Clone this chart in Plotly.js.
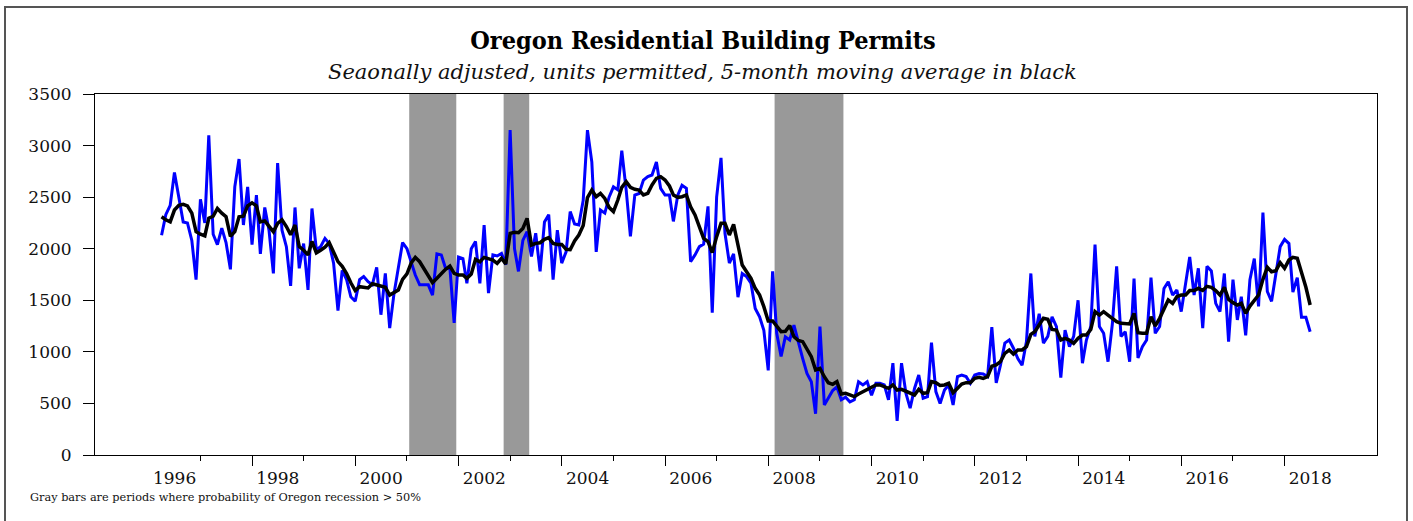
<!DOCTYPE html>
<html>
<head>
<meta charset="utf-8">
<script src="https://cdn.plot.ly/plotly-3.0.1.min.js"></script>
<style>html,body{margin:0;padding:0;background:#fff;}#chart{width:1413px;height:521px;}</style>
</head>
<body>
<div id="chart"></div>
<script>
// ---- data (monthly, starting April 1996) ----
const startYear = 1996;
const startMonth = 4;

const permits = [
2130,2330,2420,2740,2500,2260,2250,2080,1700,2480,2250,3100,
2140,2040,2200,2060,1800,2600,2870,2230,2600,2040,2520,1950,
2400,2180,1760,2830,2180,2020,1640,2400,1810,2050,1600,2390,
1990,2020,2100,2050,1860,1400,1790,1700,1535,1490,1700,1730,
1680,1650,1820,1360,1760,1230,1560,1830,2060,2000,1870,1745,
1650,1650,1650,1550,1950,1940,1810,1810,1280,1920,1905,1665,
2000,2070,1665,2230,1570,1940,1930,1955,1845,3150,2000,1780,
2080,2165,1925,2150,1780,2260,2330,1700,2180,1860,1970,2360,
2240,2230,2470,3150,2840,1970,2375,2345,2500,2600,2570,2950,
2570,2120,2520,2535,2665,2700,2715,2840,2585,2520,2520,2265,
2520,2615,2585,1875,1940,2020,2045,2410,1380,2500,2880,2150,
1860,1950,1530,1760,1730,1665,1420,1340,1210,820,1780,1180,
955,1145,1115,1260,1085,935,790,710,400,1245,485,550,
625,660,535,560,515,535,710,680,710,580,695,695,
680,535,890,330,890,600,455,645,775,550,565,1090,
615,500,630,680,485,760,775,760,695,775,790,785,
760,1240,700,870,1085,1115,1035,935,870,1100,1760,1150,
1370,1085,1150,1340,1245,750,1210,1050,1150,1500,890,1115,
1245,2040,1245,1180,905,1275,1830,1150,1195,905,1710,940,
1050,1115,1720,1180,1245,1615,1680,1550,1600,1390,1665,1920,
1550,1810,1230,1830,1785,1470,1390,1760,1100,1700,1310,1535,
1160,1700,1905,1440,2350,1585,1490,1760,2020,2090,2050,1580,
1720,1335,1335,1195
];

const movingAvg = [
2310,2280,2260,2375,2420,2430,2415,2345,2165,2140,2125,2295,
2315,2390,2345,2310,2120,2165,2310,2315,2415,2445,2415,2260,
2270,2215,2165,2245,2280,2215,2135,2230,2020,1985,1940,2070,
1960,1985,2015,2060,1970,1875,1830,1760,1670,1595,1632,1626,
1620,1660,1648,1639,1626,1551,1574,1600,1703,1755,1865,1916,
1874,1810,1745,1671,1713,1761,1800,1832,1761,1745,1745,1713,
1755,1897,1874,1916,1907,1890,1858,1907,1851,2149,2159,2155,
2197,2294,2036,2052,2058,2091,2107,2052,2042,2042,1994,1990,
2075,2133,2225,2495,2569,2504,2537,2488,2401,2359,2472,2595,
2650,2595,2576,2569,2521,2537,2618,2682,2698,2666,2608,2521,
2498,2504,2521,2407,2327,2213,2101,2068,1962,2117,2246,2246,
2133,2236,2052,1842,1777,1713,1616,1551,1438,1300,1300,1248,
1196,1200,1255,1147,1110,1099,1034,953,824,840,759,701,
685,711,591,598,582,566,591,614,637,662,679,679,
662,646,679,630,637,620,604,582,637,598,604,711,
701,675,679,695,604,646,688,701,701,743,753,743,
759,860,873,905,986,1018,979,1018,1018,1050,1170,1196,
1260,1325,1315,1218,1212,1115,1131,1115,1083,1131,1163,1163,
1218,1390,1357,1390,1357,1325,1293,1277,1277,1270,1373,1186,
1180,1180,1341,1251,1325,1422,1503,1470,1535,1551,1551,1595,
1595,1616,1595,1635,1626,1595,1551,1626,1509,1477,1454,1470,
1373,1444,1503,1551,1703,1820,1777,1787,1865,1810,1890,1917,
1907,1777,1626,1454
];

// recession periods (first and last month shaded)
const recessionStart = ['2001-02','2002-12','2008-03'];
const recessionEnd   = ['2001-12','2003-05','2009-06'];

// axis labels
const yTicks = [0,500,1000,1500,2000,2500,3000,3500];
const yearLabels = ['1996','1998','2000','2002','2004','2006','2008','2010','2012','2014','2016','2018'];
const minorTickYears = [1997,1998,1999,2000,2001,2002,2003,2004,2005,2006,2007,2008,2009,2010,2011,2012,2013,2014,2015,2016,2017,2018];
const majorTickYears = [1998,2000,2002,2004,2006,2008,2010,2012,2014,2016,2018];

// ---- build ----
function pad(n){return (n<10?'0':'')+n;}
const dates = permits.map((_, i) => {
  const t = (startMonth - 1) + i;
  const y = startYear + Math.floor(t / 12);
  const m = t % 12 + 1;
  return y + '-' + pad(m) + '-01';
});

function monthEdge(ym, offsetDays){
  const [y, m] = ym.split('-').map(Number);
  const ms = Date.UTC(y, m - 1, 1) + offsetDays * 86400000;
  return new Date(ms).toISOString().slice(0, 16).replace('T', ' ');
}

const shapes = recessionStart.map((s, i) => ({
  type: 'rect', layer: 'below', xref: 'x', yref: 'paper',
  x0: monthEdge(s, -15), x1: monthEdge(recessionEnd[i], 15),
  y0: 0, y1: 1, fillcolor: '#999999', line: {width: 0}
}));
// outer frame
shapes.push({type:'rect', xref:'paper', yref:'paper', x0:-0.0702, x1:1.0234, y0:-0.3, y1:1.2410,
  line:{color:'#555555', width:2}, fillcolor:'rgba(0,0,0,0)', layer:'above'});

const xRange = ['1994-12-17', '2019-10-17'];
const serif = 'DejaVu Serif, Liberation Serif, serif';

const traces = [
  // helper (invisible) trace that carries the year-label axis
  {x: dates, y: permits, type: 'scatter', mode: 'lines', xaxis: 'x3', yaxis: 'y',
   line: {color: 'rgba(0,0,0,0)', width: 0}, hoverinfo: 'skip', showlegend: false},
  {x: dates, y: permits, type: 'scatter', mode: 'lines', xaxis: 'x', yaxis: 'y',
   line: {color: '#0000FF', width: 3}, hoverinfo: 'x+y', showlegend: false},
  {x: dates, y: movingAvg, type: 'scatter', mode: 'lines', xaxis: 'x2', yaxis: 'y',
   line: {color: '#000000', width: 3.5}, hoverinfo: 'x+y', showlegend: false}
];

const layout = {
  width: 1413, height: 521,
  margin: {l: 95, r: 35.5, t: 94, b: 66},
  paper_bgcolor: '#ffffff', plot_bgcolor: '#ffffff',
  showlegend: false,
  font: {family: serif, color: '#111111'},
  title: {
    text: '<b>Oregon Residential Building Permits</b>',
    font: {family: 'DejaVu Serif Condensed, DejaVu Serif, serif', size: 25, color: '#000000'},
    x: 703/1413, xref: 'container', xanchor: 'center',
    y: 1 - 40/521, yref: 'container', yanchor: 'middle'
  },
  xaxis: {
    type: 'date', range: xRange, showgrid: false, zeroline: false,
    showline: true, linecolor: '#000', linewidth: 1, mirror: true,
    tickmode: 'array', tickvals: minorTickYears.map(y => y + '-01-01'),
    ticks: 'outside', ticklen: 5, tickcolor: '#000', tickwidth: 1,
    showticklabels: false
  },
  xaxis2: {
    type: 'date', range: xRange, overlaying: 'x', anchor: 'y', side: 'bottom',
    showgrid: false, zeroline: false, showline: false,
    tickmode: 'array', tickvals: majorTickYears.map(y => y + '-01-01'),
    ticks: 'outside', ticklen: 10, tickcolor: '#000', tickwidth: 1,
    showticklabels: false
  },
  xaxis3: {
    type: 'date', range: xRange, overlaying: 'x', anchor: 'y', side: 'bottom',
    showgrid: false, zeroline: false, showline: false,
    tickmode: 'array', tickvals: yearLabels.map(y => y + '-07-02'), ticktext: yearLabels,
    ticks: '', ticklabelstandoff: 11,
    tickfont: {family: serif, size: 17, color: '#111'}
  },
  yaxis: {
    range: [0, 3500], showgrid: false, zeroline: false,
    showline: true, linecolor: '#000', linewidth: 1, mirror: true,
    tickmode: 'array', tickvals: yTicks,
    ticks: 'outside', ticklen: 11, tickcolor: '#000', tickwidth: 1,
    ticklabelstandoff: 8,
    tickfont: {family: serif, size: 17, color: '#111'}
  },
  shapes: shapes,
  annotations: [
    {text: '<i>Seaonally adjusted, units permitted, 5-month moving average in black</i>',
     xref: 'paper', yref: 'paper', x: (703-95)/1282.5, y: (455-72)/361,
     xanchor: 'center', yanchor: 'middle', showarrow: false,
     font: {family: serif, size: 21, color: '#111'}},
    {text: 'Gray bars are periods where probability of Oregon recession > 50%',
     xref: 'paper', yref: 'paper', x: (28-95)/1282.5, y: (455-497)/361,
     xanchor: 'left', yanchor: 'middle', showarrow: false,
     font: {family: serif, size: 11.3, color: '#111'}}
  ]
};

Plotly.newPlot('chart', traces, layout, {displayModeBar: false, staticPlot: true});
</script>
</body>
</html>
